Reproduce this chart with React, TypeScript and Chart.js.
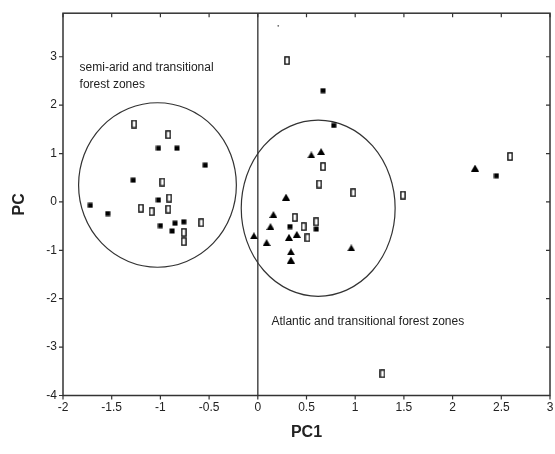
import React, { useEffect, useRef } from "react";
import { Chart, registerables } from "chart.js";

Chart.register(...registerables);

// ---- data ----
const openSquareX = [-1.27, -0.92, -0.98, -0.91, -1.2, -1.09, -0.92, -0.58, -0.76, -0.76, 0.67, 0.63, 0.98, 1.49, 0.38, 0.47, 0.6, 0.51, 2.59, 0.3, 1.28];
const openSquareY = [1.61, 1.39, 0.41, 0.08, -0.13, -0.2, -0.15, -0.43, -0.63, -0.82, 0.73, 0.37, 0.19, 0.14, -0.32, -0.51, -0.41, -0.74, 0.94, 2.92, -3.55];

const filledSquareX = [-1.02, -0.83, -0.54, -1.28, -1.02, -1.72, -1.54, -1.0, -0.85, -0.76, -0.88, 0.67, 0.78, 0.33, 0.6, 2.45];
const filledSquareY = [1.11, 1.11, 0.76, 0.45, 0.04, -0.07, -0.24, -0.49, -0.44, -0.41, -0.6, 2.3, 1.58, -0.51, -0.56, 0.54];

const triangleX = [0.55, 0.65, 0.29, 0.16, 0.13, -0.04, 0.09, 0.32, 0.4, 0.34, 0.34, 0.96, 2.23];
const triangleY = [0.97, 1.04, 0.1, -0.26, -0.51, -0.7, -0.84, -0.73, -0.67, -1.03, -1.2, -0.95, 0.7];

const dotX = [0.21];
const dotY = [3.64];

// ellipses (data units)
const ellipseCx = [-1.03, 0.62];
const ellipseCy = [0.35, -0.13];
const ellipseRx = [0.81, 0.79];
const ellipseRy = [1.7, 1.82];

// annotations
const noteText = ["semi-arid and transitional", "forest zones", "Atlantic and transitional forest zones"];
const noteX = [-1.83, -1.83, 0.14];
const noteY = [2.77, 2.42, -2.48];

const xMin = -2;
const xMax = 3;
const xStep = 0.5;
const yMin = -4;
const yMax = 3.9;
const yStep = 1;
const xTitle = "PC1";
const yTitle = "PC";

const FONT = "'Liberation Sans', Arial, sans-serif";

function toPoints(xs: number[], ys: number[]) {
  return xs.map((x, i) => ({ x, y: ys[i] }));
}

function makeMarker(kind: string): HTMLCanvasElement {
  const c = document.createElement("canvas");
  const ctx = c.getContext("2d")!;
  if (kind === "open") {
    c.width = 6;
    c.height = 9;
    ctx.strokeStyle = "#111";
    ctx.lineWidth = 1.4;
    ctx.strokeRect(0.9, 0.9, 4.2, 7.2);
  } else if (kind === "filled") {
    c.width = 6;
    c.height = 6;
    ctx.fillStyle = "#000";
    ctx.fillRect(0.5, 0.5, 5, 5);
  } else {
    c.width = 8;
    c.height = 7;
    ctx.fillStyle = "#000";
    ctx.beginPath();
    ctx.moveTo(4, 0);
    ctx.lineTo(8, 7);
    ctx.lineTo(0, 7);
    ctx.closePath();
    ctx.fill();
  }
  return c;
}

const decorPlugin = {
  id: "decor",
  beforeDatasetsDraw(chart: any) {
    const { ctx, scales } = chart;
    const xs = scales.x;
    const ys = scales.y;
    ctx.save();
    ctx.strokeStyle = "#333";
    ctx.lineWidth = 1.2;
    for (let i = 0; i < ellipseCx.length; i++) {
      const cx = xs.getPixelForValue(ellipseCx[i]);
      const cy = ys.getPixelForValue(ellipseCy[i]);
      const rx = Math.abs(xs.getPixelForValue(ellipseCx[i] + ellipseRx[i]) - cx);
      const ry = Math.abs(ys.getPixelForValue(ellipseCy[i] + ellipseRy[i]) - cy);
      ctx.beginPath();
      ctx.ellipse(cx, cy, rx, ry, 0, 0, Math.PI * 2);
      ctx.stroke();
    }
    ctx.fillStyle = "#222";
    ctx.font = `12px ${FONT}`;
    ctx.textBaseline = "middle";
    ctx.textAlign = "left";
    for (let i = 0; i < noteText.length; i++) {
      ctx.fillText(noteText[i], xs.getPixelForValue(noteX[i]), ys.getPixelForValue(noteY[i]));
    }
    ctx.restore();
  },
  afterDatasetsDraw(chart: any) {
    const { ctx, chartArea, scales } = chart;
    const { left, right, top, bottom } = chartArea;
    const xs = scales.x;
    const ys = scales.y;
    ctx.save();
    ctx.strokeStyle = "#333";
    ctx.lineWidth = 1.5;
    ctx.strokeRect(left, top, right - left, bottom - top);
    ctx.lineWidth = 1.2;
    const tl = 4;
    ctx.beginPath();
    for (const t of xs.ticks) {
      const px = xs.getPixelForValue(t.value);
      ctx.moveTo(px, bottom);
      ctx.lineTo(px, bottom + tl);
      ctx.moveTo(px, top);
      ctx.lineTo(px, top + tl);
    }
    for (const t of ys.ticks) {
      const py = ys.getPixelForValue(t.value);
      ctx.moveTo(left - tl, py);
      ctx.lineTo(left, py);
      ctx.moveTo(right - tl, py);
      ctx.lineTo(right, py);
    }
    ctx.stroke();
    ctx.restore();
  },
};

export default function App() {
  const ref = useRef<HTMLCanvasElement | null>(null);

  useEffect(() => {
    if (!ref.current) return;
    Chart.defaults.font.family = FONT;
    const openM = makeMarker("open");
    const filledM = makeMarker("filled");
    const triM = makeMarker("tri");

    const chart = new Chart(ref.current, {
      type: "scatter",
      data: {
        datasets: [
          { label: "open", data: toPoints(openSquareX, openSquareY), pointStyle: openM as any, pointRadius: 4 },
          { label: "filled", data: toPoints(filledSquareX, filledSquareY), pointStyle: filledM as any, pointRadius: 4 },
          { label: "triangle", data: toPoints(triangleX, triangleY), pointStyle: triM as any, pointRadius: 4 },
          {
            label: "dot",
            data: toPoints(dotX, dotY),
            pointStyle: "circle",
            pointRadius: 0.9,
            backgroundColor: "#666",
            borderColor: "#666",
            borderWidth: 0,
          },
        ],
      },
      options: {
        animation: false,
        responsive: true,
        maintainAspectRatio: false,
        layout: { padding: { top: 12, right: 4, left: 0, bottom: 0 } },
        plugins: { legend: { display: false }, tooltip: { enabled: false } },
        scales: {
          x: {
            type: "linear",
            min: xMin,
            max: xMax,
            afterFit: (s: any) => {
              s.height = 58.5;
              s.paddingRight = 0;
              s.paddingLeft = 0;
            },
            ticks: {
              stepSize: xStep,
              autoSkip: false,
              maxRotation: 0,
              padding: 5,
              color: "#222",
              font: { size: 12, family: FONT },
              callback: (v: any) => String(Number(v)),
            },
            grid: {
              display: true,
              drawTicks: false,
              drawOnChartArea: true,
              color: (c: any) => (c.tick && c.tick.value === 0 ? "#555" : "rgba(0,0,0,0)"),
              lineWidth: 1.6,
            },
            border: { display: false },
            title: {
              display: true,
              text: xTitle,
              color: "#222",
              font: { size: 16, weight: "bold", family: FONT },
              padding: { top: 4, bottom: 12 },
            },
          },
          y: {
            type: "linear",
            min: yMin,
            max: yMax,
            afterFit: (s: any) => {
              s.width = 63;
            },
            ticks: {
              stepSize: yStep,
              includeBounds: false,
              padding: 6,
              color: "#222",
              font: { size: 12, family: FONT },
              callback: (v: any) => String(Number(v)),
            },
            grid: { display: false, drawTicks: false },
            border: { display: false },
            title: {
              display: true,
              text: yTitle,
              color: "#222",
              font: { size: 16, weight: "bold", family: FONT },
              padding: { top: 10, bottom: 0 },
            },
          },
        },
      },
      plugins: [decorPlugin],
    });
    return () => chart.destroy();
  }, []);

  return (
    <div style={{ position: "fixed", left: 0, top: 0, width: 555, height: 454, background: "#fff" }}>
      <canvas ref={ref} />
    </div>
  );
}
